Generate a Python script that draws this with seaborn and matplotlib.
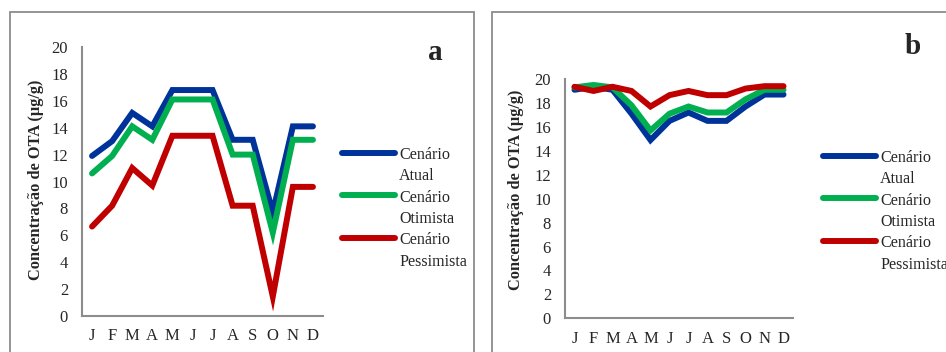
import numpy as np
import pandas as pd
import matplotlib
matplotlib.use("Agg")
import matplotlib.pyplot as plt
import seaborn as sns
from matplotlib.patches import Rectangle

# -----------------------------
# DATA
# -----------------------------
months = ["J", "F", "M", "A", "M", "J", "J", "A", "S", "O", "N", "D"]
scenarios = ["Cenário\nAtual", "Cenário\nOtimista", "Cenário\nPessimista"]

atual_a = [11.9, 13.0, 15.1, 14.1, 16.8, 16.8, 16.8, 13.1, 13.1, 7.7, 14.1, 14.1]
otimista_a = [10.6, 11.9, 14.1, 13.1, 16.1, 16.1, 16.1, 12.0, 12.0, 6.2, 13.1, 13.1]
pessimista_a = [6.65, 8.2, 11.0, 9.7, 13.4, 13.4, 13.4, 8.2, 8.2, 1.45, 9.6, 9.6]

atual_b = [19.1, 19.35, 19.1, 17.1, 14.9, 16.5, 17.2, 16.5, 16.5, 17.7, 18.7, 18.7]
otimista_b = [19.3, 19.5, 19.3, 17.8, 15.7, 17.1, 17.7, 17.2, 17.2, 18.3, 19.1, 19.1]
pessimista_b = [19.35, 19.0, 19.35, 19.0, 17.7, 18.65, 19.0, 18.65, 18.65, 19.2, 19.4, 19.4]

colors = ["#003399", "#00b050", "#c00000"]
yticks = [0, 2, 4, 6, 8, 10, 12, 14, 16, 18, 20]

# -----------------------------
# STYLE
# -----------------------------
sns.set_style("white")
plt.rcParams["font.family"] = ["Liberation Serif", "DejaVu Serif"]

W, H = 946, 352
fig = plt.figure(figsize=(W / 100, H / 100), dpi=100)


def px_axes(left, top, right, bottom):
    return fig.add_axes([left / W, 1 - bottom / H, (right - left) / W, (bottom - top) / H])


def make_df(series):
    rows = []
    for name, vals in zip(scenarios, series):
        for i, v in enumerate(vals):
            rows.append({"mes": i, "valor": v, "cenario": name})
    return pd.DataFrame(rows)


def draw_panel(ax, series, letter, letter_xy, legend_xy, ylabel_xy):
    df = make_df(series)
    sns.lineplot(data=df, x="mes", y="valor", hue="cenario", hue_order=scenarios,
                 palette=colors, linewidth=4.3, ax=ax, legend=True,
                 solid_capstyle="round", solid_joinstyle="miter")
    ax.set_xlim(-0.5, 11.5)
    ax.set_ylim(0, 20)
    ax.set_xticks(range(12))
    ax.set_xticklabels(months, fontsize=12)
    ax.set_yticks(yticks)
    ax.tick_params(axis="y", labelsize=12, length=0, pad=10)
    ax.tick_params(axis="x", length=0, pad=9)
    for s in ["top", "right"]:
        ax.spines[s].set_visible(False)
    for s in ["left", "bottom"]:
        ax.spines[s].set_color("#8c8c8c")
        ax.spines[s].set_linewidth(1.5)
    ax.set_xlabel("")
    ax.set_ylabel("")
    fig.text(ylabel_xy[0] / W, 1 - ylabel_xy[1] / H, "Concentração de OTA (µg/g)", rotation=90,
             ha="center", va="center", fontsize=11.8, fontweight="bold")
    fig.text(letter_xy[0] / W, 1 - letter_xy[1] / H, letter, ha="center", va="center",
             fontsize=21, fontweight="bold")
    handles, labels = ax.get_legend_handles_labels()
    leg = ax.legend(handles, labels, loc="upper left",
                    bbox_to_anchor=(legend_xy[0] / W, 1 - legend_xy[1] / H),
                    bbox_transform=fig.transFigure, frameon=False, fontsize=11.6,
                    handlelength=3.3, handletextpad=0.25, labelspacing=0.33,
                    borderpad=0, borderaxespad=0)
    for t in leg.get_texts():
        t.set_linespacing(1.45)
    # put each handle next to the first text line, like the original
    for col in leg._legend_handle_box.get_children():
        for row in col.get_children():
            row.align = "top"


# panel frames
fig.patches.append(Rectangle((10 / W, -0.1), 464 / W, 1 - 12 / H + 0.1,
                             transform=fig.transFigure, fill=False,
                             edgecolor="#8c8c8c", linewidth=1.3))
fig.patches.append(Rectangle((492 / W, -0.1), 0.6, 1 - 12 / H + 0.1,
                             transform=fig.transFigure, fill=False,
                             edgecolor="#8c8c8c", linewidth=1.3))

ax_a = px_axes(82, 47, 323, 316)
draw_panel(ax_a, [atual_a, otimista_a, pessimista_a], "a", (435, 53), (342, 147), (36, 180))

ax_b = px_axes(565, 79, 793, 318.3)
draw_panel(ax_b, [atual_b, otimista_b, pessimista_b], "b", (913, 47), (823, 150), (516, 190))

fig.savefig("out.png", dpi=100)
